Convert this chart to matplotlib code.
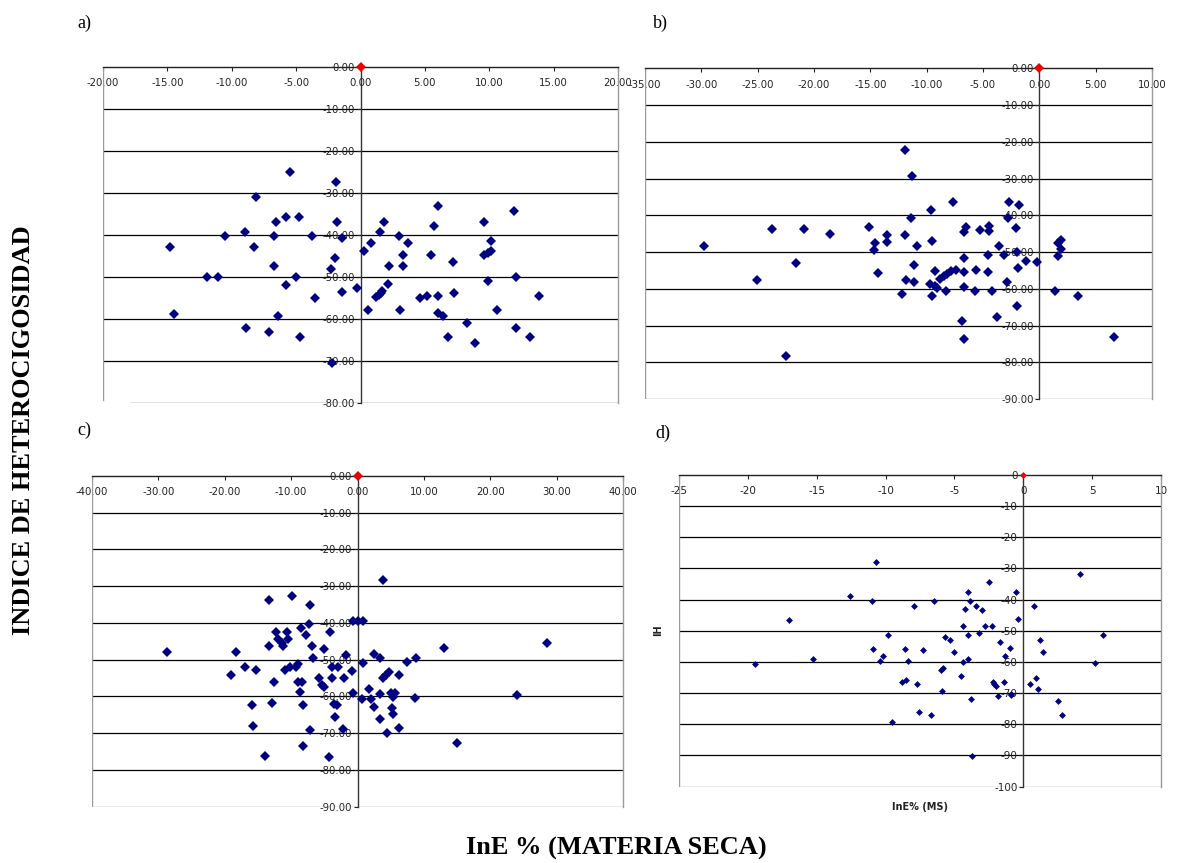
import numpy as np
import matplotlib
matplotlib.use('Agg')
import matplotlib.pyplot as plt
from matplotlib.ticker import FormatStrFormatter

# panel a
a_x = [-14.8, -14.5, -11.9, -11.1, -10.5, -9.0, -8.3, -8.1, -8.9, -7.1, -6.7, -6.7,
       -6.6, -6.4, -5.8, -5.8, -5.5, -5.0, -4.8, -4.7, -3.8, -3.5, -2.3, -2.2, -2.0,
       -1.9, -1.8, -1.4, -1.4, -0.3, 0.3, 0.6, 0.8, 1.2, 1.4, 1.5, 1.6, 1.7, 1.8, 2.1,
       2.2, 3.0, 3.1, 3.3, 3.3, 3.7, 4.6, 5.2, 5.5, 5.7, 6.0, 6.0, 6.0, 6.4, 6.8, 7.2,
       7.3, 8.3, 8.9, 9.6, 9.6, 9.9, 9.9, 10.1, 10.1, 10.6, 11.9, 12.1, 12.1, 13.2, 13.9]
a_y = [-42.8, -58.7, -50.1, -50.1, -40.2, -39.2, -42.8, -30.9, -62.1, -63.1, -47.3, -40.2,
       -36.8, -59.3, -35.6, -51.8, -24.9, -50.1, -35.6, -64.4, -40.2, -55.1, -48.2, -70.5,
       -45.4, -27.3, -36.8, -40.8, -53.5, -52.7, -43.8, -57.9, -41.8, -54.7, -54.2, -39.2,
       -53.7, -53.3, -36.8, -51.7, -47.3, -40.2, -57.9, -44.8, -47.4, -41.8, -55.1, -54.6,
       -44.8, -37.9, -33.2, -54.6, -58.5, -59.2, -64.3, -46.4, -53.8, -60.9, -65.6, -44.8,
       -36.8, -50.9, -44.2, -43.8, -41.4, -57.9, -34.4, -62.1, -49.9, -64.3, -54.5]

# panel b
b_x = [-29.8, -25.1, -23.7, -22.5, -21.6, -20.9, -18.6, -15.1, -14.6, -14.7, -14.3, -13.5,
       -13.5, -12.2, -11.9, -11.9, -11.8, -11.4, -11.3, -11.1, -11.1, -10.9, -9.6, -9.5,
       -9.7, -9.5, -9.3, -9.3, -9.1, -8.8, -8.5, -8.3, -8.2, -7.8, -7.7, -7.4, -6.9, -6.7,
       -6.7, -6.7, -6.7, -6.7, -6.5, -5.7, -5.6, -5.3, -4.6, -4.6, -4.5, -4.5, -4.2, -3.8,
       -3.6, -3.1, -2.9, -2.8, -2.7, -2.1, -2.0, -2.0, -1.9, -1.8, -1.2, -0.2, 1.4, 1.7,
       1.7, 1.9, 1.9, 3.4, 6.6]
b_y = [-48.4, -57.5, -43.7, -78.2, -53.1, -43.7, -45.2, -43.2, -47.5, -49.3, -55.7, -45.4,
       -47.2, -61.4, -45.4, -22.3, -57.7, -40.7, -29.3, -53.4, -58.1, -48.4, -38.6, -46.9,
       -58.7, -62.0, -55.2, -59.1, -59.9, -57.3, -56.4, -60.7, -55.9, -55.2, -36.4, -54.8,
       -68.8, -73.7, -51.6, -59.5, -55.5, -44.6, -43.2, -60.7, -54.8, -43.9, -50.7, -55.5,
       -42.9, -44.3, -60.7, -67.8, -48.4, -50.7, -58.1, -40.7, -36.4, -43.4, -50.0, -64.8,
       -54.3, -37.3, -52.5, -52.7, -60.7, -47.5, -51.0, -46.8, -49.1, -62.0, -73.1]

# panel c
c_x = [-28.7, -19.0, -18.3, -17.0, -15.9, -15.8, -15.3, -13.9, -13.4, -13.4, -12.9, -12.6,
       -12.3, -12.0, -11.4, -11.2, -10.9, -10.6, -10.5, -10.2, -9.9, -9.2, -8.9, -8.9,
       -8.6, -8.5, -8.4, -8.2, -8.2, -7.8, -7.3, -7.1, -7.2, -6.9, -6.7, -5.8, -5.4, -5.1,
       -5.0, -4.3, -4.2, -3.9, -3.8, -3.6, -3.4, -3.1, -2.9, -2.2, -2.0, -1.7, -0.8, -0.7,
       -0.7, 0.0, 0.7, 0.9, 0.9, 1.8, 2.0, 2.5, 2.5, 3.4, 3.4, 3.4, 3.8, 3.9, 4.3, 4.4,
       4.7, 5.0, 5.2, 5.4, 5.4, 5.6, 6.2, 6.2, 7.5, 8.6, 8.8, 13.0, 15.0, 24.0, 28.6]
c_y = [-48.0, -54.2, -48.0, -52.1, -62.3, -68.2, -52.8, -76.2, -33.8, -46.2, -61.9, -56.2,
       -42.6, -44.5, -45.6, -46.3, -52.8, -42.6, -44.5, -52.1, -32.7, -52.1, -51.2, -56.2,
       -58.9, -41.5, -56.2, -62.3, -73.5, -43.3, -40.3, -35.1, -69.1, -46.2, -49.5, -54.9,
       -56.9, -57.4, -47.2, -76.4, -42.6, -55.1, -52.1, -62.1, -65.7, -62.3, -52.1, -69.0,
       -55.1, -48.7, -53.0, -39.4, -59.0, -39.4, -60.7, -39.4, -51.0, -58.1, -60.7, -63.0,
       -48.5, -49.5, -59.4, -66.2, -28.3, -55.1, -54.2, -70.1, -53.3, -59.0, -63.2, -60.3,
       -64.8, -59.0, -54.2, -68.7, -50.7, -60.5, -49.5, -46.9, -72.6, -59.6, -45.4]

# panel d
d_x = [-19.5, -17.0, -15.3, -12.6, -11.0, -10.9, -10.7, -10.4, -10.2, -9.8, -9.5, -8.8,
       -8.6, -8.5, -8.4, -7.9, -7.7, -7.6, -7.3, -6.7, -6.5, -6.0, -5.9, -5.8, -5.7, -5.3,
       -5.0, -4.5, -4.4, -4.4, -4.2, -4.0, -4.0, -4.0, -3.9, -3.8, -3.7, -3.4, -3.2, -3.0,
       -2.8, -2.5, -2.3, -2.2, -2.1, -2.0, -1.8, -1.7, -1.4, -1.3, -1.0, -0.9, -0.9, -0.5,
       -0.4, 0.5, 0.8, 0.9, 1.1, 1.2, 1.4, 2.5, 2.8, 4.1, 5.2, 5.8]
d_y = [-60.7, -46.7, -59.0, -38.7, -40.4, -55.9, -27.8, -59.6, -58.2, -51.5, -79.3, -66.5,
       -55.9, -65.9, -59.6, -42.2, -67.0, -76.1, -56.1, -77.2, -40.4, -62.7, -69.3, -62.0,
       -52.1, -53.1, -56.9, -64.5, -60.1, -48.6, -43.0, -51.5, -59.0, -37.7, -40.4, -71.9,
       -90.1, -42.2, -50.8, -43.3, -48.6, -34.5, -48.6, -66.6, -67.1, -67.6, -71.1, -53.7,
       -66.5, -58.2, -55.4, -70.2, -70.6, -37.4, -46.1, -67.0, -42.2, -65.2, -68.7, -53.1,
       -56.9, -72.5, -77.2, -31.7, -60.2, -51.5]

W, H = 1181, 863
fig = plt.figure(figsize=(W / 100, H / 100), dpi=100)


def box(l, r, t, b):
    return [l / W, 1 - b / H, (r - l) / W, (b - t) / H]


navy = '#000080'
frame = '#9a9a9a'


def panel(rect, xs, ys, xlim, ylim, xstep, ystep, fmt, ms, tick_fs=7.3):
    ax = fig.add_axes(rect)
    ax.set_xlim(xlim)
    ax.set_ylim(ylim)
    ax.set_xticks(np.arange(xlim[0], xlim[1] + 0.01, xstep))
    yt = np.arange(ylim[0], ylim[1] + 0.01, ystep)
    ax.set_yticks(yt)
    ax.xaxis.set_major_formatter(FormatStrFormatter(fmt))
    ax.yaxis.set_major_formatter(FormatStrFormatter(fmt))
    ax.spines['bottom'].set_position(('data', 0))
    ax.spines['left'].set_position(('data', 0))
    ax.spines['top'].set_visible(False)
    ax.spines['bottom'].set_color('#222222')
    ax.spines['left'].set_color('#333333')
    ax.spines['right'].set_color(frame)
    for s in ax.spines.values():
        s.set_linewidth(1.0)
    ax.tick_params(axis='x', direction='out', length=3, width=0.8, pad=5,
                   labelsize=tick_fs, labelcolor='#222222', color='#222222')
    ax.tick_params(axis='y', direction='out', length=3, width=0.8, pad=1,
                   labelsize=tick_fs, labelcolor='#222222', color='#222222')
    ax.hlines(yt[1:-1], xlim[0], xlim[1], color='black', lw=0.9, zorder=1)
    ax.plot(xs, ys, linestyle='none', marker='D', ms=ms, color=navy,
            markeredgewidth=0, zorder=3)
    ax.plot([0], [0], linestyle='none', marker='D', ms=ms, color='#ee0000',
            markeredgewidth=0, zorder=4, clip_on=False)
    return ax, yt


# a)
ax_a, yt = panel(box(103, 618, 67, 403), a_x, a_y, (-20, 20), (-80, 0), 5, 10, '%.2f', 5.4)
ax_a.hlines(-80, -17.9, 20, color='black', lw=0.9, zorder=1)
ax_a.axvline(-20, 0.01, 1, color=frame, lw=1.0)

# b)
ax_b, yt = panel(box(645, 1152, 68.5, 399), b_x, b_y, (-35, 10), (-90, 0), 5, 10, '%.2f', 5.4)
ax_b.axvline(-35, color=frame, lw=1.0)
ax_b.axhline(-90, color=frame, lw=1.0)

# c)
ax_c, yt = panel(box(92, 623, 476, 806.5), c_x, c_y, (-40, 40), (-90, 0), 10, 10, '%.2f', 5.4)
ax_c.axvline(-40, color=frame, lw=1.0)
ax_c.axhline(-90, color=frame, lw=1.0)

# d)
ax_d, yt = panel(box(679, 1161, 475, 786.5), d_x, d_y, (-25, 10), (-100, 0), 5, 10, '%d', 3.5, 7.5)
ax_d.axvline(-25, color=frame, lw=1.0)
ax_d.axhline(-100, color=frame, lw=1.0)
ax_d.text(0.5, -0.065, 'InE% (MS)', transform=ax_d.transAxes, ha='center', va='center',
          fontsize=7, fontweight='bold', color='#222222')
fig.text(658 / W, 1 - 630 / H, 'IH', rotation=90, ha='center', va='center',
         fontsize=7, fontweight='bold', color='#222222')

serif = 'Liberation Serif'
for lbl, x, y in [('a)', 77, 23), ('b)', 653, 23), ('c)', 77, 430), ('d)', 655, 433)]:
    fig.text(x / W, 1 - y / H, lbl, ha='left', va='center', fontsize=13, family=serif)

fig.text(24 / W, 1 - 430 / H, 'INDICE DE HETEROCIGOSIDAD', rotation=90, ha='center',
         va='center', fontsize=19, fontweight='bold', family=serif)
fig.text(616 / W, 1 - 848 / H, 'InE % (MATERIA SECA)', ha='center', va='center',
         fontsize=19, fontweight='bold', family=serif)

fig.savefig('out.png', dpi=100)
